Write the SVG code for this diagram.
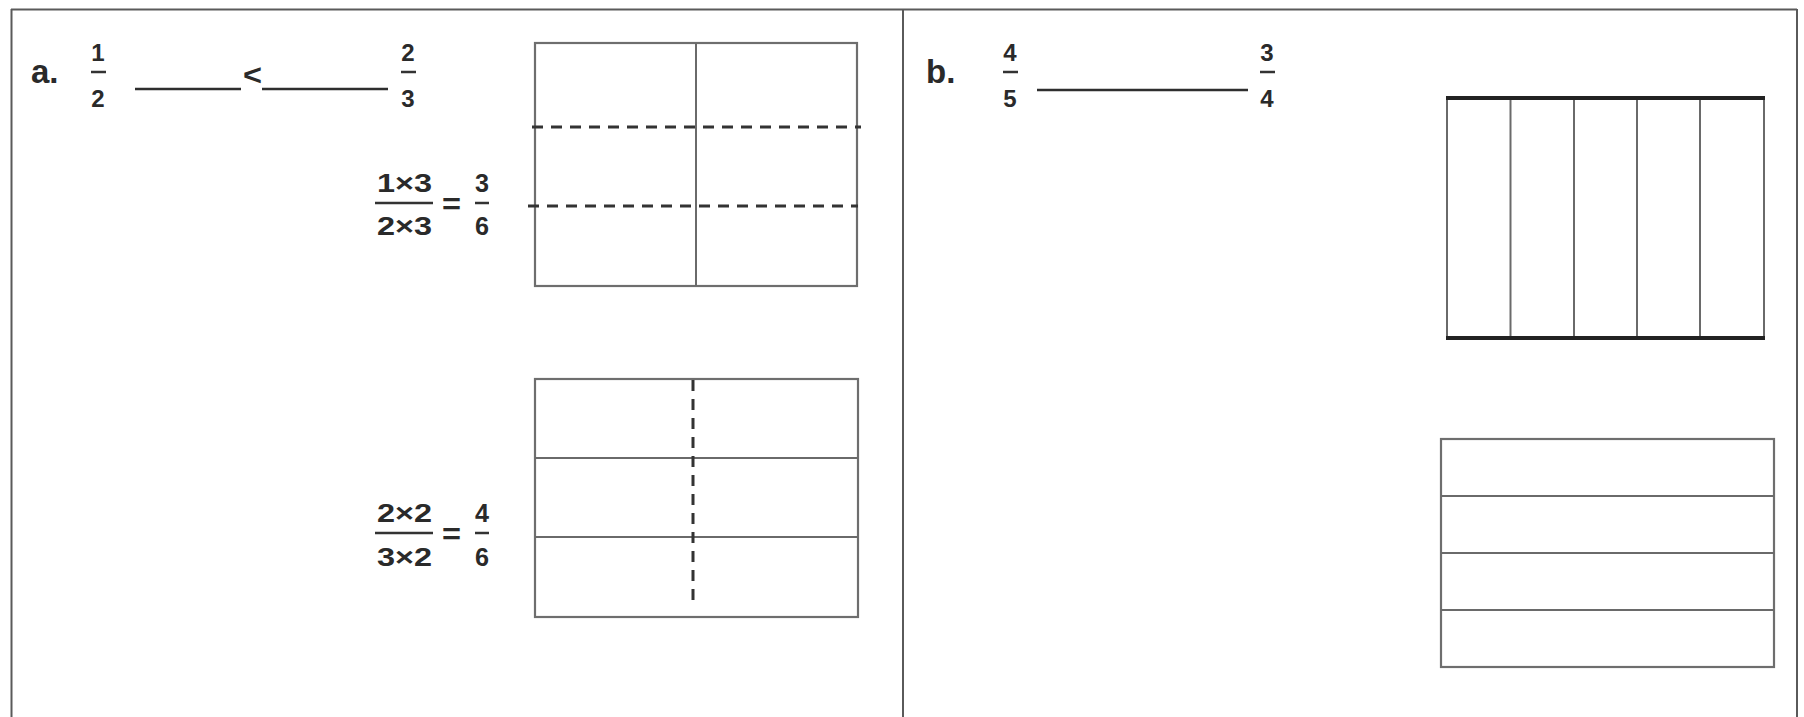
<svg xmlns="http://www.w3.org/2000/svg" width="1804" height="717" viewBox="0 0 1804 717">
<style>
  .frame { stroke: #5a5a5a; stroke-width: 2; fill: none; }
  .box { stroke: #6e6e6e; stroke-width: 2.2; fill: #ffffff; }
  .grid { stroke: #6a6a6a; stroke-width: 2; fill: none; }
  .dash { stroke: #333333; stroke-width: 3; stroke-dasharray: 11 8; fill: none; }
  .thick { stroke: #222222; stroke-width: 4; fill: none; }
  .blank { stroke: #2e2e2e; stroke-width: 2.5; fill: none; }
  .bar { stroke: #333333; stroke-width: 2.5; fill: none; }
  .lbl { font-family: "Liberation Sans", Arial, sans-serif; font-weight: bold; font-size: 33px; fill: #2a2a2a; }
  .num { font-family: "Liberation Sans", Arial, sans-serif; font-weight: bold; font-size: 24px; fill: #2a2a2a; text-anchor: middle; }
  .big { font-family: "Liberation Sans", Arial, sans-serif; font-weight: bold; font-size: 25px; fill: #2a2a2a; }
  .sym { font-family: "Liberation Sans", Arial, sans-serif; font-weight: bold; font-size: 30px; fill: #2a2a2a; }
</style>
<rect x="0" y="0" width="1804" height="717" fill="#ffffff"/>

<g id="frame">
  <line class="frame" x1="11" y1="9.5" x2="1797" y2="9.5"/>
  <line class="frame" x1="11.5" y1="9" x2="11.5" y2="717"/>
  <line class="frame" x1="903" y1="9" x2="903" y2="717"/>
  <line class="frame" x1="1797" y1="9" x2="1797" y2="717"/>
</g>

<g id="problem-a-header">
  <text class="lbl" x="31" y="83">a.</text>
  <text class="num" x="98" y="61">1</text>
  <line class="bar" x1="91" y1="72" x2="106" y2="72"/>
  <text class="num" x="98" y="107">2</text>
  <line class="blank" x1="135" y1="89" x2="241" y2="89"/>
  <text class="sym" x="243" y="85" textLength="19" lengthAdjust="spacingAndGlyphs">&lt;</text>
  <line class="blank" x1="262" y1="89" x2="388" y2="89"/>
  <text class="num" x="408" y="61">2</text>
  <line class="bar" x1="401" y1="72" x2="416" y2="72"/>
  <text class="num" x="408" y="107">3</text>
</g>

<g id="equation-a1">
  <text class="big" x="377" y="192" textLength="55" lengthAdjust="spacingAndGlyphs">1×3</text>
  <line class="bar" x1="375" y1="203" x2="433" y2="203"/>
  <text class="big" x="377" y="235" textLength="55" lengthAdjust="spacingAndGlyphs">2×3</text>
  <text class="sym" x="442" y="214" textLength="19" lengthAdjust="spacingAndGlyphs">=</text>
  <text class="big" x="475" y="192" textLength="14" lengthAdjust="spacingAndGlyphs">3</text>
  <line class="bar" x1="475" y1="203" x2="489" y2="203"/>
  <text class="big" x="475" y="235" textLength="14" lengthAdjust="spacingAndGlyphs">6</text>
</g>

<g id="equation-a2">
  <text class="big" x="377" y="522" textLength="55" lengthAdjust="spacingAndGlyphs">2×2</text>
  <line class="bar" x1="375" y1="533" x2="433" y2="533"/>
  <text class="big" x="377" y="566" textLength="55" lengthAdjust="spacingAndGlyphs">3×2</text>
  <text class="sym" x="442" y="544" textLength="19" lengthAdjust="spacingAndGlyphs">=</text>
  <text class="big" x="475" y="522" textLength="14" lengthAdjust="spacingAndGlyphs">4</text>
  <line class="bar" x1="475" y1="533" x2="489" y2="533"/>
  <text class="big" x="475" y="566" textLength="14" lengthAdjust="spacingAndGlyphs">6</text>
</g>

<g id="model-a-halves">
  <rect class="box" x="535" y="43" width="322" height="243"/>
  <line class="grid" x1="696" y1="43" x2="696" y2="286"/>
  <line class="dash" x1="532" y1="127" x2="861" y2="127"/>
  <line class="dash" x1="528" y1="206" x2="858" y2="206"/>
</g>

<g id="model-a-thirds">
  <rect class="box" x="535" y="379" width="323" height="238"/>
  <line class="grid" x1="535" y1="458" x2="858" y2="458"/>
  <line class="grid" x1="535" y1="537" x2="858" y2="537"/>
  <line class="dash" x1="693" y1="380" x2="693" y2="608"/>
</g>

<g id="problem-b-header">
  <text class="lbl" x="926" y="83">b.</text>
  <text class="num" x="1010" y="61">4</text>
  <line class="bar" x1="1003" y1="72" x2="1018" y2="72"/>
  <text class="num" x="1010" y="107">5</text>
  <line class="blank" x1="1037" y1="90" x2="1248" y2="90"/>
  <text class="num" x="1267" y="61">3</text>
  <line class="bar" x1="1260" y1="72" x2="1275" y2="72"/>
  <text class="num" x="1267" y="107">4</text>
</g>

<g id="model-b-fifths">
  <line class="grid" x1="1447" y1="98" x2="1447" y2="338"/>
  <line class="grid" x1="1764" y1="98" x2="1764" y2="338"/>
  <line class="grid" x1="1510.5" y1="98" x2="1510.5" y2="338"/>
  <line class="grid" x1="1574" y1="98" x2="1574" y2="338"/>
  <line class="grid" x1="1637" y1="98" x2="1637" y2="338"/>
  <line class="grid" x1="1700" y1="98" x2="1700" y2="338"/>
  <line class="thick" x1="1446" y1="98" x2="1765" y2="98"/>
  <line class="thick" x1="1446" y1="338" x2="1765" y2="338"/>
</g>

<g id="model-b-fourths">
  <rect class="box" x="1441" y="439" width="333" height="228"/>
  <line class="grid" x1="1441" y1="496" x2="1774" y2="496"/>
  <line class="grid" x1="1441" y1="553" x2="1774" y2="553"/>
  <line class="grid" x1="1441" y1="610" x2="1774" y2="610"/>
</g>
</svg>
